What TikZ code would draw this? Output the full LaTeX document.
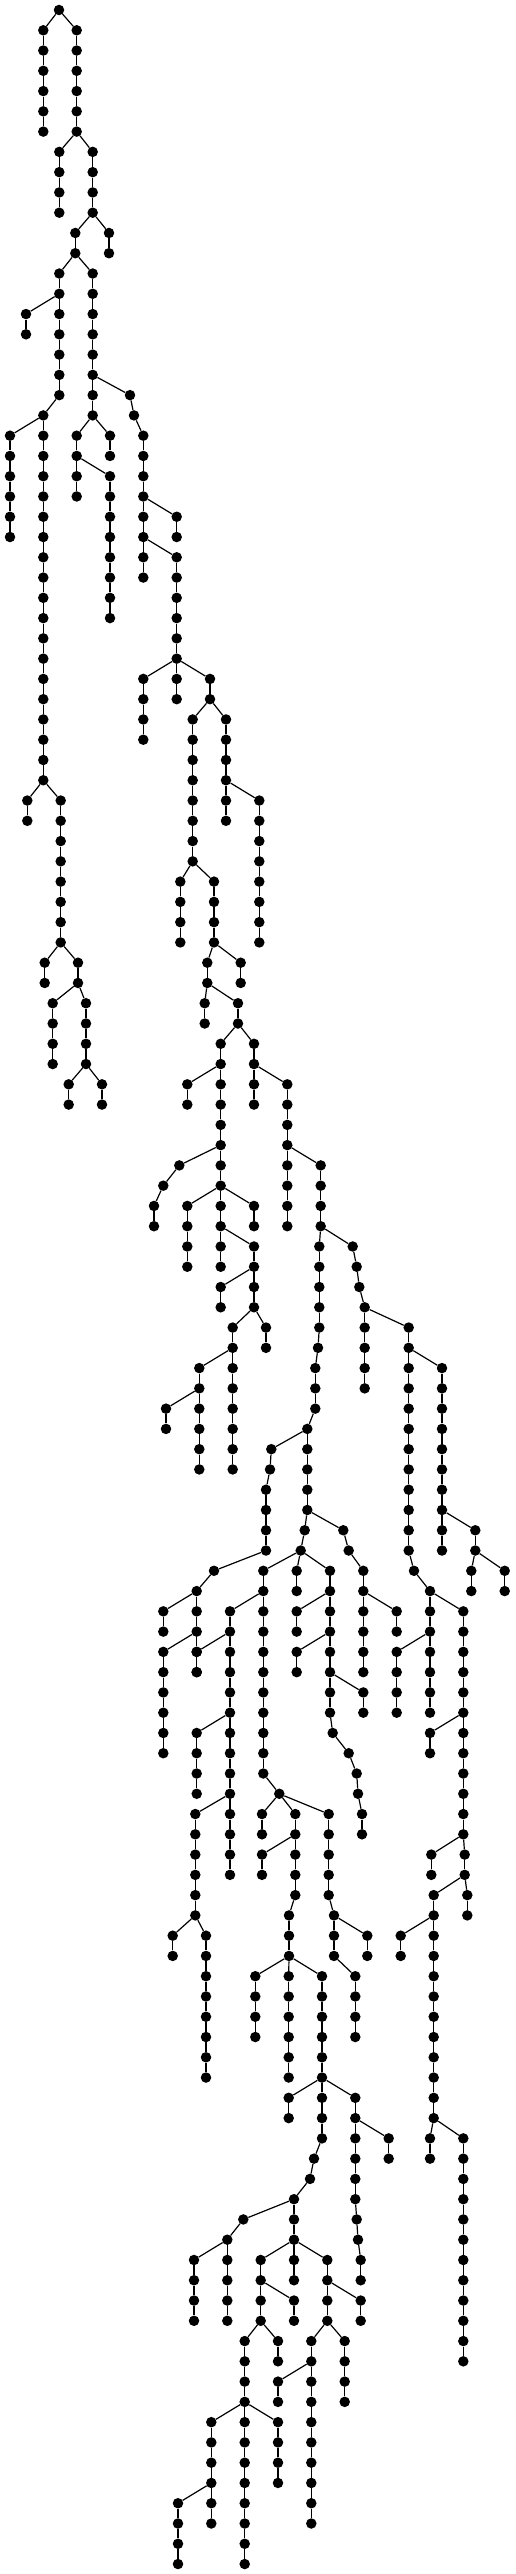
\documentclass[tikz,border=0pt]{standalone}
\newcommand\vchain[4]{%
  \foreach \lv in {#3,...,#4}{%
    \node[dot] (#1-\lv) at (#2,{-10-20.27*\lv}) {};
    \ifnum\lv>#3\relax
      \pgfmathtruncatemacro\pv{\lv-1}%
      \draw[edge] (#1-\pv) -- (#1-\lv);
    \fi
  }%
}
\begin{document}
\begin{tikzpicture}[x=1pt,y=1pt,
  dot/.style={circle,fill=black,draw=none,inner sep=0pt,minimum size=10.5pt},
  edge/.style={line width=1.2pt,black}]
\useasboundingbox (0,0) rectangle (515,-2574);
\foreach \nm/\xx/\fr/\to in {
r/59/0/0, a/43.3/1/6, b/76.7/1/6, c/59.3/7/10, d/92.7/7/10,
e/75.3/11/12, f/109/11/12, g/59.3/13/19, h/26/15/16, i/92.7/13/20,
j/43.3/20/38, k/10/21/26, la/130/19/19, lb/134/20/20, m/143.3/21/28,
n/76.7/21/24, o/110/21/22, p/110/23/30, q/176.7/25/26, s/176.7/27/32,
t/27.3/39/40, u/60.7/39/46, v/143.3/33/36, w/176.7/33/34, xa/210/33/34,
ya/192.7/35/42, za/226/35/40, aa/259.3/39/46, ab/44.7/47/48, ac/78/47/48,
ad/52.7/49/52, ae/86/49/52, af/68.7/53/54, ag/102/53/54, ah/180.3/43/46,
ai/214/43/46, aj/207.3/47/48, ak/240.7/47/48, al/204.7/49/50, am/238/49/50,
an/220.7/51/52, ao/254/51/52, ap/187.3/53/54, aq/220.7/53/58, ar/254/53/54,
as/287.3/53/60, au/179.3/57/57, av/163.3/58/58, aw/154/59/60, ax/187.3/59/62,
ay/220.7/59/62, az/254/59/60, ba/254/61/64, bb/220.7/63/64, bc/232.7/65/72,
bd/266/65/66, be/199.3/67/72, bf/166/69/70, bg/320.7/57/60, bh/319.3/61/65,
bi/318/66/66, bj/315.3/67/69, bk/307.3/70/70, bla/271.3/71/71, blb/270/72/72,
bm/266/73/76, bn/307.3/71/74, boa/352.7/61/61, bob/356.7/62/62, boc/359.3/63/63,
bp/364.7/64/68, bq/408.7/65/76, br/442/67/76, bs/214/77/77, bt/196.7/78/82,
bu/163.3/79/80, bv/163.3/81/86, bwa/304.7/75/75, bwb/300.7/76/76, bx/263.3/77/87,
by/279.3/88/88, bz/230/79/92, ca/196.7/81/82, cb/196.7/85/88, cc/195.3/89/94,
cd/296.7/77/78, ce/330/77/84, cfa/332.7/85/85, cfb/348.7/86/86, cfc/356.7/87/87,
cfd/358/88/88, cg/362/89/90, ch/296.7/79/80, ci/296.7/81/82, cj/363.3/83/84,
cka/343.3/75/75, ckb/348.7/76/76, cl/363.3/77/82, cm/396.7/79/80, co/414/77/77,
cp/430/78/84, cq/463.3/79/90, cr/464.7/91/92, cs/467.3/93/94, ct/396.7/81/84,
cu/430/85/86, cv/431.3/91/92, cw/433.7/93/104, cx/475.3/75/76, cy/471.3/77/78,
cz/504.7/77/78, da/262/89/90, db/295.3/89/93, dc/328.7/89/93, dd/289/94/96,
de/262/91/92, df/334/94/96, dg/172.7/95/96, dh/206/95/102, di/255.3/97/100,
dj/288.7/97/102, dk/322/97/105, dla/314/106/106, dlb/310/107/107, dm/294/108/112,
dn/288.7/103/104, do/355.3/103/108, dpa/356.7/109/109, dpb/358/110/110, dq/360.7/111/112,
dr/388.7/105/106, ds/355.3/97/100, dt/367.3/95/96, du/400.7/95/96, dv/430/105/106,
dw/463.3/105/116, dxa/243.3/109/109, dy/227.3/110/114, dz/194/111/114, ea/260.7/111/114,
eb/327.3/111/114, ec/294/113/114, ed/244.7/115/126, ee/278/115/116, ef/360.7/113/114,
eg/311.3/115/124, eh/344.7/115/118, ei/211.3/119/124, ej/278/119/122, ek/178/123/126,
el/278/117/118}{\vchain{\nm}{\xx}{\fr}{\to}}
\foreach \pa/\ch in {
r-0/a-1, r-0/b-1, b-6/c-7, b-6/d-7, d-10/e-11, d-10/f-11,
e-12/g-13, e-12/i-13, g-14/h-15, g-19/j-20, j-20/k-21,
i-18/la-19, la-19/lb-20, lb-20/m-21, i-20/n-21, i-20/o-21, n-22/p-23,
m-24/q-25, m-26/s-27, j-38/t-39, j-38/u-39,
s-32/v-33, s-32/w-33, s-32/xa-33, xa-34/ya-35, xa-34/za-35, za-38/aa-39,
u-46/ab-47, u-46/ac-47, ac-48/ad-49, ac-48/ae-49, ae-52/af-53, ae-52/ag-53,
ya-42/ah-43, ya-42/ai-43, ai-46/aj-47, ai-46/ak-47, aj-48/al-49, aj-48/am-49,
am-50/an-51, am-50/ao-51, an-52/ap-53, an-52/aq-53, ao-52/ar-53, ao-52/as-53,
aq-56/au-57, au-57/av-58, av-58/aw-59, aq-58/ax-59, aq-58/ay-59, aq-58/az-59,
ay-60/ba-61, ba-62/bb-63, ba-64/bc-65, ba-64/bd-65, bc-66/be-67, be-68/bf-69,
as-56/bg-57, bg-60/bh-61, bg-60/boa-61, bh-65/bi-66, bi-66/bj-67, bj-69/bk-70,
bk-70/bla-71, bla-71/blb-72, blb-72/bm-73, bk-70/bn-71,
boa-61/bob-62, bob-62/boc-63, boc-63/bp-64, bp-64/bq-65, bq-66/br-67,
bm-76/bs-77, bs-77/bt-78, bt-78/bu-79, bt-80/bv-81,
bn-74/bwa-75, bwa-75/bwb-76, bwb-76/bx-77, bwb-76/cd-77, bwb-76/ce-77,
bx-78/bz-79, bz-80/ca-81, bz-84/cb-85, bz-88/cc-89,
ce-78/ch-79, ce-80/ci-81, ce-82/cj-83,
ce-84/cfa-85, cfa-85/cfb-86, cfb-86/cfc-87, cfc-87/cfd-88, cfd-88/cg-89,
bn-74/cka-75, cka-75/ckb-76, ckb-76/cl-77, cl-78/cm-79,
bq-76/co-77, co-77/cp-78, cp-78/cq-79, cp-80/ct-81, cq-84/cu-85,
cq-90/cr-91, cq-90/cv-91, cr-92/cs-93, cr-92/cw-93,
br-74/cx-75, cx-76/cy-77, cx-76/cz-77,
bx-87/by-88, by-88/da-89, by-88/db-89, by-88/dc-89, db-90/de-91,
db-93/dd-94, dc-93/df-94, cc-94/dg-95, cc-94/dh-95,
dd-96/di-97, dd-96/dj-97, dd-96/dk-97, dk-102/dn-103, dk-102/do-103,
dk-105/dla-106, dla-106/dlb-107, dlb-107/dm-108, do-104/dr-105,
do-108/dpa-109, dpa-109/dpb-110, dpb-110/dq-111,
df-94/dt-95, df-96/ds-97, cw-94/du-95, cw-104/dv-105, cw-104/dw-105,
dm-108/dxa-109, dxa-109/dy-110, dy-110/dz-111, dm-110/ea-111, dm-110/eb-111,
ea-112/ec-113, ea-114/ed-115, ea-114/ee-115, eb-112/ef-113,
eb-114/eg-115, eb-114/eh-115, ed-118/ei-119, ed-118/ej-119,
ei-122/ek-123, eg-116/el-117}{\draw[edge] (\pa) -- (\ch);}
\end{tikzpicture}
\end{document}
